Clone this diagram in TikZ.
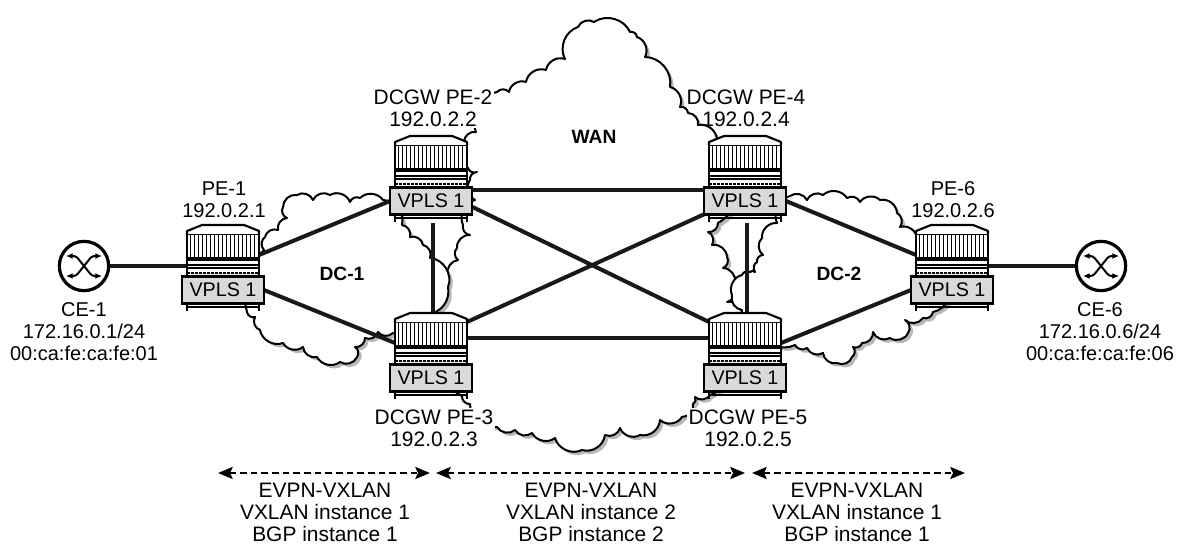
\documentclass[tikz,border=0pt]{standalone}
\usepackage{fontspec}
\setmainfont{Liberation Sans}
\usetikzlibrary{arrows.meta,backgrounds,shadows}
\tikzset{
  lbl/.style={align=center, fill=white, inner sep=1pt, font=\fontsize{15.7}{16.5}\selectfont},
  celbl/.style={lbl, font=\fontsize{15}{16.5}\selectfont},
  area/.style={inner sep=0pt, font=\fontsize{14.4}{16}\selectfont\bfseries},
  link/.style={line width=3pt, black!90},
  vlink/.style={line width=2.6pt, black!90, shorten <=6.75pt},
  span/.style={line width=1.8pt, dash pattern=on 5pt off 3pt, {Stealth[length=11pt,width=9pt,inset=2pt]}-{Stealth[length=11pt,width=9pt,inset=2pt]}},
  cloud/.style={draw, line width=1.5pt, fill=white, line join=round, drop shadow={shadow xshift=2.5pt, shadow yshift=-2.5pt, fill=black!28, opacity=1}},
  chassis/.style={draw, line width=1.5pt, fill=white, minimum width=54pt, minimum height=31.5pt, inner sep=0pt, outer sep=0pt},
  vpls/.style={draw, line width=1.9pt, fill=black!15, minimum width=61.5pt, minimum height=20pt, inner sep=0pt, outer sep=0pt, font=\fontsize{14.8}{16}\selectfont},
  router/.pic={
    \node[chassis] (-c) at (0,-35) {};
    \draw[line width=1.6pt, fill=white, line join=round] (-36,-56) -- (-36,-59) -- (-21,-65) -- (21,-65) -- (36,-59) -- (36,-56);
    \foreach \i in {-33,-29,...,33}
      \draw[line width=0.6pt] (\i,-56) -- (\i,-32);
    \draw[line width=2.8pt] (-36,-31) -- (36,-31);
    \draw[line width=1.3pt] (-36,-25) -- (36,-25);
    \draw[line width=1.3pt] (-36,-22) -- (36,-22);
    \draw[line width=2.2pt, dash pattern=on 2pt off 1pt] (-36,-17) -- (36,-17);
    \draw[line width=1.5pt] (-36,13) -- (-36,21);
    \draw[line width=1.5pt] (36,13) -- (36,21);
    \draw[line width=2.2pt] (-36,17) -- (36,17);
    \node[vpls] (-v) at (0,0) {VPLS 1};
  },
  cerouter/.pic={
    \node[draw, circle, line width=2.4pt, fill=white, minimum size=37pt, inner sep=0pt] (-c) at (0,0) {};
    \draw[line width=1.5pt, rounded corners=2pt, {Latex[length=5pt,width=4.5pt]}-{Latex[length=5pt,width=4.5pt]}] (-18,-10) -- (-8,-10) -- (8,10) -- (18,10);
    \draw[line width=1.5pt, rounded corners=2pt, {Latex[length=5pt,width=4.5pt]}-{Latex[length=5pt,width=4.5pt]}] (-18,10) -- (-8,10) -- (8,-10) -- (18,-10);
  }
}

\begin{document}
\begin{tikzpicture}[x=0.75pt, y=-0.75pt]
  \useasboundingbox (0,0) rectangle (1180,545);

  \pic (ce1) at (84,266) {cerouter};
  \pic (ce6) at (1101,266) {cerouter};
  \pic (pe1) at (223,290) {router};
  \pic (pe2) at (431,201) {router};
  \pic (pe3) at (431,378) {router};
  \pic (pe4) at (745,201) {router};
  \pic (pe5) at (745,378) {router};
  \pic (pe6) at (952,290) {router};

  \node[celbl] (ce1l) at (84,332) {CE-1\\172.16.0.1/24\\00:ca:fe:ca:fe:01};
  \node[celbl] (ce6l) at (1100,332) {CE-6\\172.16.0.6/24\\00:ca:fe:ca:fe:06};
  \node[celbl] (pe1l) at (224,200) {PE-1\\192.0.2.1};
  \node[lbl] (pe2l) at (433,108) {DCGW PE-2\\192.0.2.2};
  \node[lbl] (pe3l) at (434,428) {DCGW PE-3\\192.0.2.3};
  \node[lbl, fill=none] (pe4l) at (746,108) {DCGW PE-4\\192.0.2.4};
  \node[lbl] (pe5l) at (748,428) {DCGW PE-5\\192.0.2.5};
  \node[celbl] (pe6l) at (953,200) {PE-6\\192.0.2.6};

  \node[area] (wan) at (594,137) {WAN};
  \node[area] (dc1) at (342,274) {DC-1};
  \node[area] (dc2) at (839,274) {DC-2};

  \begin{scope}[on background layer]
    % clouds
    \draw[cloud] (497,92) \foreach \px/\py in {509/92,526/82,546/70,565/59,578/27,594/22,630/32,637/37,645/57,670/87,680/107,688/113,698/125,717/140,730/160,718/223,708/232,712/245,727/257,723/268,735/283,727/302,742/313,730/340,710/395,695/397,693/404,682/417,660/420,640/435,620/428,605/435,582/450,555/438,532/433,515/430,497/427,470/404,462/396,445/320,448/275,458/260,457/248,470/235,463/225,475/200,470/180,477/172,468/168,464/142,476/132,497/92} { to[bend left=50] (\px,\py) };
    \draw[cloud] (247,312) to[bend left=30] (264,250) \foreach \px/\py in {265/237,278/230,287/218,283/207,297/195,313/200,330/195,350/202,360/198,383/200,402/225,410/237,423/245,430/258} { to[bend left=50] (\px,\py) } to[bend left=55] (448,287) to[bend left=40] (433,313) \foreach \px/\py in {393/333,378/332,365/338,355/347,357/357,340/362,317/357,303/347,283/343,260/330,255/317,247/312} { to[bend left=50] (\px,\py) };
    \draw[cloud] (790,196) \foreach \px/\py in {807/200,823/195,847/198,860/202,880/200,897/213,900/227,917/238,950/280,933/312,923/318,905/320,908/333,890/338,873/332,862/343,853/347,852/357,837/363,823/353,807/348,795/345,760/330,742/310,732/295,742/275,750/272,755/272,757/262,763/255,762/238,777/223,790/196} { to[bend left=50] (\px,\py) };
    % links
    \draw[link] (ce1-c.east) -- (ce1-c.east -| pe1-c.west);
    \draw[link] (pe1-c.east) -- (pe2-v.west);
    \draw[link] (pe1-v.east) -- (pe3-c.west);
    \draw[link] (pe2-v.15) -- (pe4-v.165);
    \draw[link] (pe2-v.-8) -- (pe5-c.north west);
    \draw[link] (pe3-c.north east) -- (pe4-v.south west);
    \draw[link] (pe3-c.8) -- (pe5-c.172);
    \draw[vlink] ([xshift=1.5pt]pe2-v.south) -- ([xshift=1.5pt]pe3-c.north);
    \draw[vlink] ([xshift=1.5pt]pe4-v.south) -- ([xshift=1.5pt]pe5-c.north);
    \draw[link] (pe4-v.east) -- (pe6-c.west);
    \draw[link] (pe5-c.east) -- (pe6-v.west);
    \draw[link] (pe6-c.east |- ce6-c.west) -- (ce6-c.west);
  \end{scope}

  \coordinate (s1) at (218,473);
  \coordinate (s2) at (430,473);
  \coordinate (s3) at (436,473);
  \coordinate (s4) at (745,473);
  \coordinate (s5) at (752,473);
  \coordinate (s6) at (965,473);
  \draw[span] (s1) -- (s2);
  \draw[span] (s3) -- (s4);
  \draw[span] (s5) -- (s6);

  \node[lbl] (t1) at (325,512) {EVPN-VXLAN\\VXLAN instance 1\\BGP instance 1};
  \node[lbl] (t2) at (591,512) {EVPN-VXLAN\\VXLAN instance 2\\BGP instance 2};
  \node[lbl] (t3) at (857,512) {EVPN-VXLAN\\VXLAN instance 1\\BGP instance 1};
\end{tikzpicture}
\end{document}
